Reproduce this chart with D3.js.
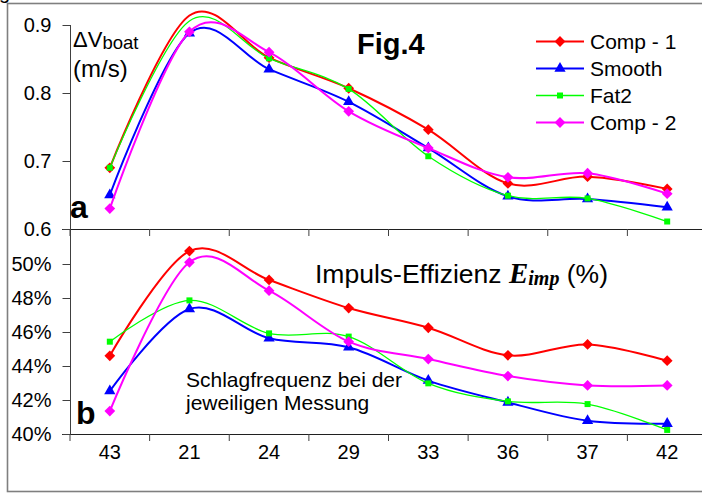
<!DOCTYPE html>
<html>
<head>
<meta charset="utf-8">
<script src="https://cdn.jsdelivr.net/npm/d3@7"></script>
<style>
    body { margin: 0; background: #fff; }
    svg { display: block; }
    text { font-family: Arial, "Liberation Sans", sans-serif; fill: #000; }
</style>
</head>
<body>
<script>
// stroke rate (Schlagfrequenz) at each measurement
var categories = ['43', '21', '24', '29', '33', '36', '37', '42'];
var seriesNames = ['Comp - 1', 'Smooth', 'Fat2', 'Comp - 2'];

// panel a: boat speed fluctuation (m/s)
var speedComp1 = [0.690, 0.914, 0.852, 0.807, 0.746, 0.667, 0.677, 0.659];
var speedSmooth = [0.650, 0.888, 0.835, 0.787, 0.719, 0.648, 0.644, 0.632];
var speedFat2 = [0.690, 0.906, 0.851, 0.806, 0.707, 0.649, 0.645, 0.611];
var speedComp2 = [0.630, 0.890, 0.860, 0.773, 0.719, 0.676, 0.682, 0.652];

// panel b: impulse efficiency (%)
var effComp1 = [44.60, 50.76, 49.06, 47.41, 46.25, 44.63, 45.27, 44.31];
var effSmooth = [42.53, 47.35, 45.63, 45.10, 43.14, 41.86, 40.78, 40.61];
var effFat2 = [45.43, 47.86, 45.92, 45.73, 42.98, 41.92, 41.76, 40.24];
var effComp2 = [41.35, 50.10, 48.43, 45.43, 44.41, 43.41, 42.86, 42.86];

var speedTicks = [0.6, 0.7, 0.8, 0.9];
var effTicks = [40, 42, 44, 46, 48, 50];

window.CHART = {
    init: function () {
        var self = this;

        self.width = 702;
        self.height = 493;

        // in panel a the picture shows no Comp - 1 / Fat2 marker at "21"
        self.styles = [
            {color: '#ff0000', width: 2, marker: 'diamond', size: 58, skipA: [1]},
            {color: '#0000ff', width: 2, marker: 'triangle', size: 55, skipA: []},
            {color: '#00ff00', width: 1.3, marker: 'square', size: 36, skipA: [1]},
            {color: '#ff00ff', width: 2, marker: 'diamond', size: 58, skipA: []}
        ];

        self.svg = d3.select('body').append('svg')
            .attr('width', self.width)
            .attr('height', self.height);

        // outer frame (runs off the right edge)
        self.svg.append('rect')
            .attr('x', 7.5).attr('y', 3.5)
            .attr('width', 760).attr('height', 488)
            .attr('fill', 'none')
            .attr('stroke', '#7f7f7f')
            .attr('stroke-width', 1.6);

        // cut-off caption glyph at the top left
        self.svg.append('text')
            .attr('x', -1).attr('y', -1)
            .style('font-size', '20px')
            .text('g');

        self.x = d3.scaleBand().domain(categories).range([70, 707]);

        self.drawPanel({
            y: d3.scaleLinear().domain([0.6, 0.9]).range([229, 25]),
            ticks: speedTicks,
            fmt: d3.format('.1f'),
            series: [speedComp1, speedSmooth, speedFat2, speedComp2],
            bottom: 229,
            top: 25,
            labels: false,
            skip: true
        });

        self.drawPanel({
            y: d3.scaleLinear().domain([40, 52]).range([434, 230]),
            ticks: effTicks,
            fmt: function (d) { return d + '%'; },
            series: [effComp1, effSmooth, effFat2, effComp2],
            bottom: 434,
            top: 229,
            labels: true,
            skip: false
        });

        self.drawText();
        self.drawLegend();
    },
    symbol: function (name, size) {
        var diamond = {
            draw: function (ctx, s) {
                var r = Math.sqrt(s / 2);
                ctx.moveTo(0, -r);
                ctx.lineTo(r, 0);
                ctx.lineTo(0, r);
                ctx.lineTo(-r, 0);
                ctx.closePath();
            }
        };
        var types = {diamond: diamond, triangle: d3.symbolTriangle, square: d3.symbolSquare};
        return d3.symbol().type(types[name]).size(size)();
    },
    drawPanel: function (p) {
        var self = this,
            g = self.svg.append('g'),
            half = self.x.bandwidth() / 2,
            xAxis, yAxis;

        xAxis = d3.axisBottom(self.x).tickSize(7).tickFormat('');
        var gx = g.append('g').attr('transform', 'translate(0,' + p.bottom + ')').call(xAxis);
        gx.select('.domain').attr('d', 'M62,0.5H720').attr('stroke', '#202020');
        gx.selectAll('.tick line').attr('stroke', '#404040')
            .attr('transform', 'translate(' + (-half) + ',0)');
        // last boundary tick
        gx.append('line').attr('x1', 707).attr('x2', 707).attr('y1', 0).attr('y2', 7).attr('stroke', '#404040');

        if (p.labels) {
            g.selectAll('.xlab').data(categories).enter().append('text')
                .attr('x', function (d) { return self.x(d) + half; })
                .attr('y', p.bottom + 25)
                .attr('text-anchor', 'middle')
                .style('font-size', '20px')
                .text(function (d) { return d; });
        }

        yAxis = d3.axisLeft(p.y).tickValues(p.ticks).tickSize(8).tickPadding(11).tickFormat(p.fmt);
        var gy = g.append('g').attr('transform', 'translate(70.5,0)').call(yAxis);
        gy.select('.domain').attr('d', 'M0,' + p.top + 'V' + p.bottom).attr('stroke', '#404040');
        gy.selectAll('.tick line').attr('stroke', '#404040');
        gy.selectAll('.tick text').style('font-size', '20px')
            .style('font-family', 'Arial, "Liberation Sans", sans-serif').attr('fill', '#000');

        var line = d3.line()
            .x(function (d, i) { return self.x(categories[i]) + half; })
            .y(function (d) { return p.y(d); })
            .curve(d3.curveCatmullRom.alpha(0));

        p.series.forEach(function (values, k) {
            var st = self.styles[k],
                pts;

            g.append('path')
                .attr('d', line(values))
                .attr('fill', 'none')
                .attr('stroke', st.color)
                .attr('stroke-width', st.width);

            pts = values.map(function (v, i) { return {v: v, i: i}; })
                .filter(function (d) { return !(p.skip && st.skipA.indexOf(d.i) >= 0); });

            g.selectAll('.m' + k).data(pts).enter().append('path')
                .attr('transform', function (d) {
                    return 'translate(' + (self.x(categories[d.i]) + half) + ',' + p.y(d.v) + ')';
                })
                .attr('d', self.symbol(st.marker, st.size))
                .attr('fill', st.color);
        });
    },
    drawText: function () {
        var self = this,
            serif = '"Liberation Serif", "Times New Roman", serif',
            t;

        t = self.svg.append('text').attr('x', 73).attr('y', 47).style('font-size', '22px');
        t.append('tspan').text('\u0394V');
        t.append('tspan').attr('dy', 2).style('font-size', '18.5px').text('boat');
        self.svg.append('text').attr('x', 73).attr('y', 77).style('font-size', '24px').text('(m/s)');

        self.svg.append('text').attr('x', 357).attr('y', 54)
            .style('font-size', '29px').style('font-weight', 'bold').text('Fig.4');

        self.svg.append('text').attr('x', 70).attr('y', 218)
            .style('font-size', '32px').style('font-weight', 'bold').text('a');
        self.svg.append('text').attr('x', 76).attr('y', 424)
            .style('font-size', '32px').style('font-weight', 'bold').text('b');

        t = self.svg.append('text').attr('x', 315).attr('y', 283).style('font-size', '26.5px');
        t.append('tspan').text('Impuls-Effizienz ');
        t.append('tspan').style('font-family', serif)
            .style('font-weight', 'bold').style('font-style', 'italic').style('font-size', '29px').text('E');
        t.append('tspan').attr('dy', 2).style('font-family', serif)
            .style('font-weight', 'bold').style('font-style', 'italic').style('font-size', '20px').text('imp');
        t.append('tspan').attr('dy', -2).text(' (%)');

        self.svg.append('text').attr('x', 186).attr('y', 387).style('font-size', '21px').text('Schlagfrequenz bei der');
        self.svg.append('text').attr('x', 186).attr('y', 410).style('font-size', '21px').text('jeweiligen Messung');
    },
    drawLegend: function () {
        var self = this,
            rows;

        rows = self.svg.selectAll('.leg').data(seriesNames).enter().append('g')
            .attr('transform', function (d, i) { return 'translate(536,' + (41.5 + i * 27) + ')'; });

        rows.append('line')
            .attr('x1', 0).attr('x2', 48)
            .attr('stroke', function (d, i) { return self.styles[i].color; })
            .attr('stroke-width', function (d, i) { return self.styles[i].width; });
        rows.append('path')
            .attr('transform', 'translate(24,0)')
            .attr('d', function (d, i) { return self.symbol(self.styles[i].marker, self.styles[i].size); })
            .attr('fill', function (d, i) { return self.styles[i].color; });
        rows.append('text')
            .attr('x', 54).attr('y', 7.5)
            .style('font-size', '21px')
            .text(function (d) { return d; });
    }
};

CHART.init();
</script>
</body>
</html>
